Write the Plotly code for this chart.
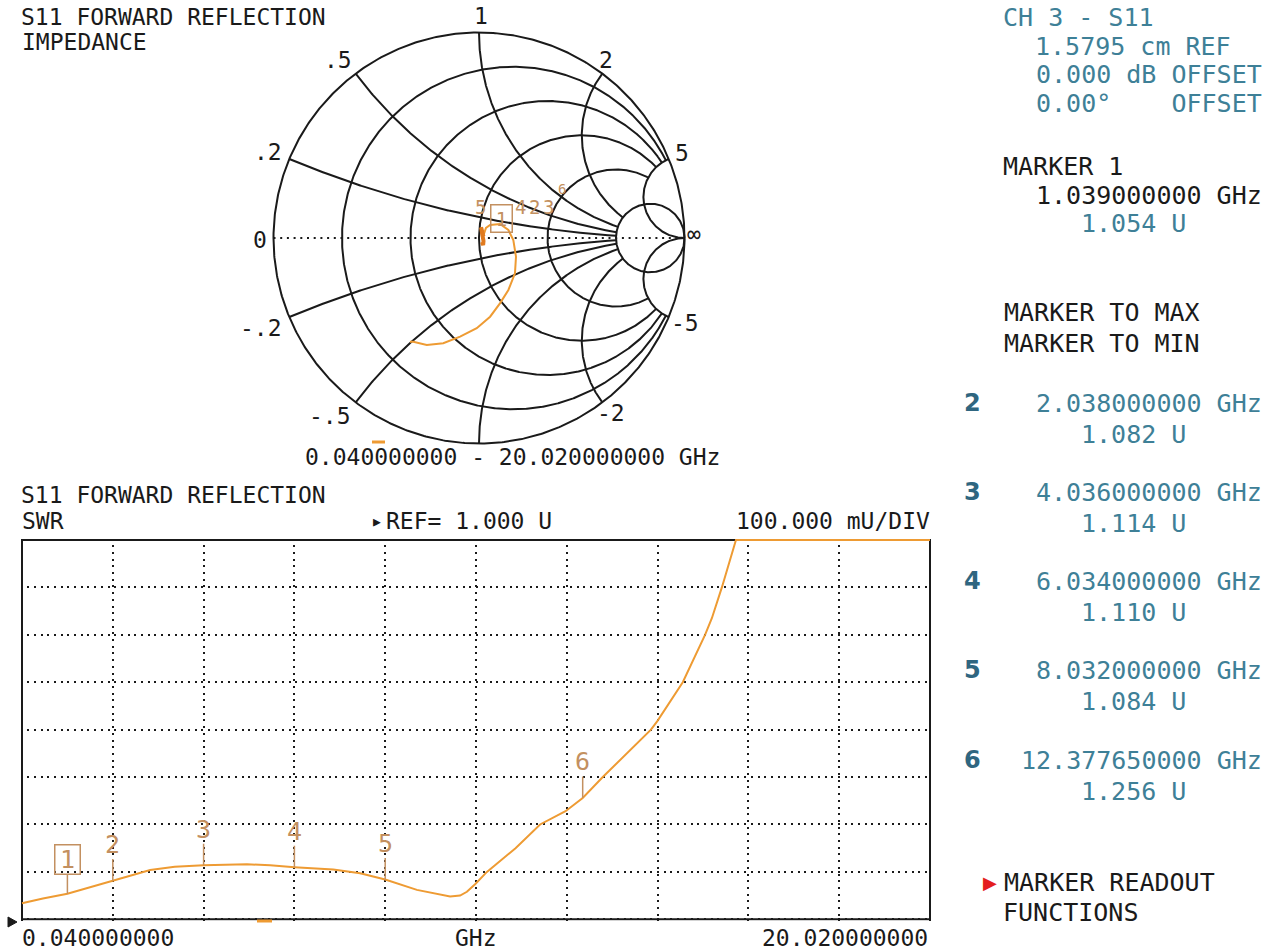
import numpy as np
import plotly.graph_objects as go

W, H = 1281, 951

# ---------------- data ----------------
sweep_start, sweep_stop = 0.040, 20.020      # GHz
ref_level = 1.000                            # U
scale_mu = 100.000                           # mU/DIV
n_div_x, n_div_y = 10, 8

marker_ids = [1, 2, 3, 4, 5, 6]
marker_f = [1.039, 2.038, 4.036, 6.034, 8.032, 12.37765]   # GHz
marker_v = [1.054, 1.082, 1.114, 1.110, 1.084, 1.256]      # U

swr_f = [0.04, 0.50, 1.039, 1.50, 2.038, 2.86, 3.40, 4.036, 4.99, 5.50, 6.034, 6.89,
         7.48, 8.032, 8.73, 9.20, 9.46, 9.68, 9.83, 10.01, 10.27, 10.90, 11.44, 12.00,
         12.37765, 12.82, 13.88, 14.02, 14.58, 15.07, 15.22, 15.44, 15.60, 15.75, 20.02]
swr_v = [1.034, 1.044, 1.054, 1.067, 1.082, 1.104, 1.111, 1.114, 1.116, 1.114, 1.110, 1.105,
         1.097, 1.084, 1.062, 1.052, 1.048, 1.050, 1.058, 1.074, 1.100, 1.150, 1.200, 1.228,
         1.256, 1.300, 1.400, 1.418, 1.500, 1.600, 1.635, 1.700, 1.750, 1.800, 1.800]

# Smith chart trace, reflection coefficient (real, imag)
smith_re = [0.015, 0.020, 0.022, 0.018, 0.012, 0.010, 0.014, 0.020, 0.024, 0.034, 0.054,
            0.102, 0.143, 0.167, 0.180, 0.175, 0.143, 0.102, 0.054, -0.011, -0.092,
            -0.174, -0.254, -0.320, -0.336]
smith_im = [-0.020, -0.034, -0.015, 0.010, 0.035, 0.052, 0.040, 0.015, 0.020, 0.049, 0.063,
            0.068, 0.039, -0.010, -0.091, -0.172, -0.253, -0.318, -0.383, -0.439, -0.480,
            -0.512, -0.521, -0.505, -0.505]
n_dense = 9   # low-frequency points that pile up near the centre

smith_r_vals = [0.2, 0.5, 1, 2, 5]
smith_x_vals = [0.2, 0.5, 1, 2, 5]

# ---------------- style ----------------
FONT = "DejaVu Sans Mono"
BLACK = "#1a1a1a"
TEAL = "#3e8097"
TEAL_D = "#2f6680"
ORANGE = "#ee9b33"
ORANGE_D = "#e07a1e"
TAN = "#c39060"
RED = "#e41e1e"
DOT = "2px,4.7px"

fig = go.Figure()

# ---------------- Smith chart graticule ----------------
def gam(z):
    return (z - 1) / (z + 1)

gx, gy = [], []
t = np.linspace(-np.pi, np.pi, 721)
gx += list(np.cos(t)) + [None]
gy += list(np.sin(t)) + [None]
xmax = max(smith_x_vals)
rmax = max(smith_r_vals)
for r in smith_r_vals:
    if r == rmax:
        xs = np.tan(np.linspace(-np.pi / 2 + 1e-4, np.pi / 2 - 1e-4, 1201))
    else:
        xs = np.linspace(-xmax, xmax, 2001)
    g = gam(r + 1j * xs)
    gx += list(g.real) + [None]
    gy += list(g.imag) + [None]
for xv in smith_x_vals:
    if xv == xmax:
        rs = np.concatenate([np.linspace(0, 5, 600), np.geomspace(5, 1e5, 600)])
    else:
        rs = np.linspace(0, rmax, 1001)
    for s in (1, -1):
        g = gam(rs + 1j * s * xv)
        gx += list(g.real) + [None]
        gy += list(g.imag) + [None]

fig.add_trace(go.Scatter(x=gx, y=gy, mode="lines", xaxis="x", yaxis="y",
                         line=dict(color=BLACK, width=2), hoverinfo="skip", showlegend=False))
fig.add_trace(go.Scatter(x=[-1, 1], y=[0, 0], mode="lines", xaxis="x", yaxis="y",
                         line=dict(color=BLACK, width=2, dash=DOT), hoverinfo="skip", showlegend=False))
fig.add_trace(go.Scatter(x=smith_re, y=smith_im, mode="lines", xaxis="x", yaxis="y",
                         line=dict(color=ORANGE, width=2), showlegend=False))
fig.add_trace(go.Scatter(x=smith_re[:n_dense], y=smith_im[:n_dense], mode="lines", xaxis="x", yaxis="y",
                         line=dict(color=ORANGE_D, width=4), showlegend=False))

# Smith axes mapping (centre / radius in pixels)
CX, CY, R = 479.0, 238.0, 205.5
sx0, sx1, sy0, sy1 = 258, 700, 18, 458

# ---------------- SWR plot ----------------
fig.add_trace(go.Scatter(x=swr_f, y=swr_v, mode="lines", xaxis="x2", yaxis="y2",
                         line=dict(color=ORANGE, width=2), showlegend=False))

fx0, fx1, fy0, fy1 = 22.0, 930.0, 540.0, 919.3
pad = 1.5
top_level = ref_level + n_div_y * scale_mu / 1000
ppx = (fx1 - fx0) / (sweep_stop - sweep_start)
ppy = (fy1 - fy0) / (top_level - ref_level)

fig.update_layout(
    width=W, height=H, margin=dict(l=0, r=0, t=0, b=0),
    paper_bgcolor="white", plot_bgcolor="rgba(0,0,0,0)",
    xaxis=dict(domain=[sx0 / W, sx1 / W], range=[(sx0 - CX) / R, (sx1 - CX) / R],
               visible=False, fixedrange=True),
    yaxis=dict(domain=[1 - sy1 / H, 1 - sy0 / H], range=[(CY - sy1) / R, (CY - sy0) / R],
               visible=False, fixedrange=True),
    xaxis2=dict(domain=[(fx0 - pad) / W, (fx1 + pad) / W],
                range=[sweep_start - pad / ppx, sweep_stop + pad / ppx],
                tick0=sweep_start, dtick=(sweep_stop - sweep_start) / n_div_x,
                showgrid=True, gridcolor=BLACK, gridwidth=2, griddash=DOT,
                showticklabels=False, ticks="", zeroline=False, showline=False,
                anchor="y2", fixedrange=True),
    yaxis2=dict(domain=[1 - (fy1 + pad) / H, 1 - (fy0 - pad) / H],
                range=[ref_level - pad / ppy, top_level + pad / ppy],
                tick0=ref_level, dtick=scale_mu / 1000,
                showgrid=True, gridcolor=BLACK, gridwidth=2, griddash=DOT,
                showticklabels=False, ticks="", zeroline=False, showline=False,
                anchor="x2", fixedrange=True),
    showlegend=False,
)

fig.add_shape(type="rect", xref="x2", yref="y2", x0=sweep_start, x1=sweep_stop,
              y0=ref_level, y1=top_level, line=dict(color=BLACK, width=2), layer="between")

# reference-level pointer left of the frame
yc = 1 - 922 / H
hh = 5 / H
fig.add_shape(type="path", xref="paper", yref="paper",
              path=f"M {8 / W},{yc + hh} L {17 / W},{yc} L {8 / W},{yc - hh} Z",
              fillcolor=BLACK, line=dict(color=BLACK, width=1), layer="above")

# marker flags on SWR plot
for mid, f, v in zip(marker_ids, marker_f, marker_v):
    boxed = (mid == 1)
    fig.add_annotation(x=f, y=v, xref="x2", yref="y2", text=str(mid), showarrow=True,
                       arrowhead=0, arrowwidth=1.5, arrowcolor=TAN, ax=0, ay=-34 if boxed else -36,
                       standoff=0, font=dict(family=FONT, size=25, color=TAN),
                       bordercolor=TAN if boxed else "rgba(0,0,0,0)", borderwidth=1.5 if boxed else 0,
                       width=24 if boxed else None, height=28 if boxed else None, borderpad=0)

# ---------------- text helpers ----------------
def txt(x, y, s, color=BLACK, size=23, anchor="left", bold=False, family=FONT):
    if bold:
        s = "<b>" + s + "</b>"
    fig.add_annotation(xref="paper", yref="paper", x=x / W, y=1 - y / H, text=s, showarrow=False,
                       xanchor=anchor, yanchor="middle", borderpad=0,
                       font=dict(family=family, size=size, color=color))

def cell_txt(start, y, s, cell, color=BLACK, size=23):
    """place a monospace line so that its centre matches a character grid of width `cell`"""
    s2 = s.replace(" ", "\u00a0")
    txt(start + len(s) * cell / 2, y, s2, color, size, "center")

LC, RC = 13.8, 15.7     # character cell widths of left / right text areas
LS, RS = 23, 25

# Smith chart labels around the rim
def lab(v):
    s = f"{v:g}"
    return s.replace("0.", ".")

rim_offsets = {0.2: (-21, -7), 0.5: (-18, -14), 1: (2, -16), 2: (4, -14), 5: (13, -6),
               -0.2: (-28, 11), -0.5: (-26, 14), -2: (9, 11), -5: (16, 6)}
for xv, (dx, dy) in rim_offsets.items():
    g = gam(1j * xv)
    fig.add_annotation(x=g.real, y=g.imag, xref="x", yref="y", text=lab(xv), showarrow=False,
                       xshift=dx, yshift=-dy, font=dict(family=FONT, size=LS, color=BLACK))
fig.add_annotation(x=-1, y=0, xref="x", yref="y", text="0", showarrow=False, xshift=-14, yshift=-2,
                   font=dict(family=FONT, size=LS, color=BLACK))
fig.add_annotation(x=1, y=0, xref="x", yref="y", text="∞", showarrow=False, xshift=9, yshift=4,
                   font=dict(family=FONT, size=LS, color=BLACK))

# Smith marker labels
for mid, px in zip([5, 4, 2, 3], [480, 520, 534, 548]):
    txt(px, 207, str(mid), TAN, 19, "center")
fig.add_annotation(xref="paper", yref="paper", x=501 / W, y=1 - 204 / H, text="1", showarrow=False,
                   font=dict(family=FONT, size=19, color=TAN), bordercolor=TAN, borderwidth=1.5,
                   width=20, height=26, borderpad=0)
txt(562, 189, "6", TAN, 14, "center")

# left titles
cell_txt(22, 17, "S11 FORWARD REFLECTION", LC)
cell_txt(22, 42, "IMPEDANCE", LC)
band = f"{sweep_start:.9f} - {sweep_stop:.9f} GHz"
cell_txt(512 - len(band) * LC / 2, 457, band, LC)
cell_txt(22, 495, "S11 FORWARD REFLECTION", LC)
cell_txt(22, 521, "SWR", LC)
txt(377, 521, "▶", size=13, anchor="center")
cell_txt(386, 521, f"REF= {ref_level:.3f} U", LC)
sdiv = f"{scale_mu:.3f} mU/DIV"
cell_txt(930 - len(sdiv) * LC, 521, sdiv, LC)
cell_txt(22, 938, f"{sweep_start:.9f}", LC)
cell_txt(476 - 1.5 * LC, 938, "GHz", LC)
sstop = f"{sweep_stop:.9f}"
cell_txt(928 - len(sstop) * LC, 938, sstop, LC)

# right panel (character grid starting at x=1000)
def col(c):
    return 1000 + c * RC

cell_txt(col(0), 17, "CH 3 - S11", RC, TEAL, RS)
cell_txt(col(2), 46, "1.5795 cm REF", RC, TEAL, RS)
cell_txt(col(2), 75, "0.000 dB OFFSET", RC, TEAL, RS)
cell_txt(col(2), 104, "0.00°    OFFSET", RC, TEAL, RS)
cell_txt(col(0), 166, f"MARKER {marker_ids[0]}", RC, BLACK, RS)
s = f"{marker_f[0]:.9f} GHz"
cell_txt(col(17 - len(s)), 195, s, RC, BLACK, RS)
cell_txt(col(5), 224, f"{marker_v[0]:.3f} U", RC, TEAL, RS)
cell_txt(col(0), 313, "MARKER TO MAX", RC, BLACK, RS)
cell_txt(col(0), 343, "MARKER TO MIN", RC, BLACK, RS)
block_y = [403, 492, 581, 670, 760]
for mid, f, v, yy in zip(marker_ids[1:], marker_f[1:], marker_v[1:], block_y):
    txt(973, yy, str(mid), TEAL_D, 24, "center", bold=True, family="DejaVu Sans")
    s = f"{f:.9f} GHz"
    cell_txt(col(17 - len(s)), yy, s, RC, TEAL, RS)
    cell_txt(col(5), yy + 31, f"{v:.3f} U", RC, TEAL, RS)
txt(990, 882, "▶", RED, 18, "center", family="DejaVu Sans")
cell_txt(col(0), 882, "MARKER READOUT", RC, BLACK, RS)
cell_txt(col(0), 912, "FUNCTIONS", RC, BLACK, RS)

# small trace-colour ticks
fig.add_shape(type="line", xref="paper", yref="paper", x0=257 / W, x1=272 / W,
              y0=1 - 921 / H, y1=1 - 921 / H, line=dict(color=ORANGE, width=3), layer="above")
fig.add_shape(type="line", xref="paper", yref="paper", x0=372 / W, x1=385 / W,
              y0=1 - 442 / H, y1=1 - 442 / H, line=dict(color=ORANGE, width=3), layer="above")

fig.write_html("out.html", config={"displayModeBar": False},
               post_script="document.body.style.margin='0px';document.body.style.overflow='hidden';")
